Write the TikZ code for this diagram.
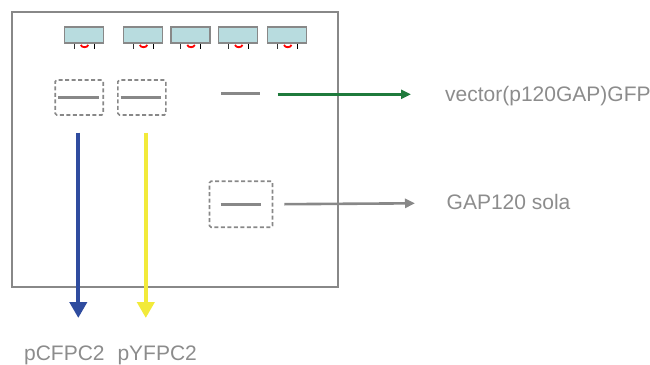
\documentclass[tikz,border=0pt]{standalone}
\usepackage{fontspec}
\setmainfont{Liberation Sans}
\usetikzlibrary{arrows.meta}
\definecolor{gelgray}{HTML}{888888}
\definecolor{txtgray}{HTML}{8C8C8C}
\definecolor{wellfill}{HTML}{B8DCDF}
\definecolor{cfpblue}{HTML}{2F4C9F}
\definecolor{yfpyellow}{HTML}{F2EA3A}
\definecolor{gfpgreen}{HTML}{1F7A3C}
\begin{document}
\begin{tikzpicture}[x=1pt,y=-1pt,
  gel/.style={draw=gelgray, line width=1.8pt, minimum width=326pt, minimum height=275pt, inner sep=0pt},
  well/.style={draw=gelgray, fill=wellfill, line width=1.5pt, minimum width=39pt, minimum height=16pt, inner sep=0pt},
  cutbox/.style={draw=gelgray, line width=1.6pt, dash pattern=on 4pt off 2.5pt, rounded corners=1.5pt, inner sep=0pt},
  band/.style={draw=gelgray, line width=3pt},
  label/.style={font=\fontsize{21}{24}\selectfont, text=txtgray, inner sep=0pt},
  bigarrow/.style={line width=4pt, -{Triangle[width=17pt,length=16pt]}},
  smallarrow/.style={line width=2.6pt, -{Triangle[width=9pt,length=10pt]}}
]
\useasboundingbox (0,0) rectangle (650,364);

% gel outline
\node[gel] (gel) at (175,149.5) {};

% loading wells with their comb teeth
\foreach \i/\cx in {1/83.8, 2/142.8, 3/190.3, 4/238, 5/287} {
  \node[well] (w\i) at (\cx,35) {};
  \fill[white] ([xshift=-9.5pt]w\i.south) rectangle ([xshift=10.5pt,yshift=-5pt]w\i.south);
  \draw[black!80, line width=1pt] ([xshift=-9.5pt]w\i.south) -- ++(0,5);
  \draw[black, line width=1.3pt] ([xshift=10.5pt]w\i.south) -- ++(0,5);
  \draw[red, line width=1.8pt] ([xshift=-3pt,yshift=-1.2pt]w\i.south) .. controls ++(1,3) and ++(-1,3) .. ([xshift=4.5pt,yshift=-1.2pt]w\i.south);
}

% excised bands (dashed boxes)
\node[cutbox, minimum width=48pt, minimum height=35pt] (cut1) at (79.2,97.5) {};
\node[cutbox, minimum width=48pt, minimum height=35pt] (cut2) at (141.9,97.5) {};
\node[cutbox, minimum width=63pt, minimum height=46pt] (cut3) at (241,204.2) {};

% bands
\draw[band] ([xshift=4pt]cut1.west) -- ([xshift=-5pt]cut1.east);
\draw[band] ([xshift=3.5pt]cut2.west) -- ([xshift=-6pt]cut2.east);
\coordinate (b3a) at (221,93.8);
\coordinate (b3b) at (260,93.8);
\draw[band] (b3a) -- (b3b);
\draw[band] ([xshift=12pt]cut3.west) -- ([xshift=-12.5pt]cut3.east);

% labels
\node[label, anchor=base west] (vec) at (445,101) {vector(p120GAP)GFP};
\node[label, anchor=base west] (sola) at (446.5,209) {GAP120 sola};
\node[label, anchor=base] (cfp) at (64.4,360) {pCFPC2};
\node[label, anchor=base] (yfp) at (157.2,360) {pYFPC2};

% arrows
\coordinate (g0) at (277.5,94.3);
\coordinate (g1) at (411,94.3);
\draw[smallarrow, gfpgreen] (g0) -- (g1);
\coordinate (s1) at (415,203.3);
\draw[smallarrow, gelgray] ([xshift=11pt]cut3.east) -- (s1);

\coordinate (c0) at (78.3,132.5);
\coordinate (c1) at (78.3,318);
\draw[bigarrow, cfpblue] (c0) -- (c1);
\coordinate (y0) at (145.8,132.5);
\coordinate (y1) at (145.8,318);
\draw[bigarrow, yfpyellow] (y0) -- (y1);
\end{tikzpicture}
\end{document}
